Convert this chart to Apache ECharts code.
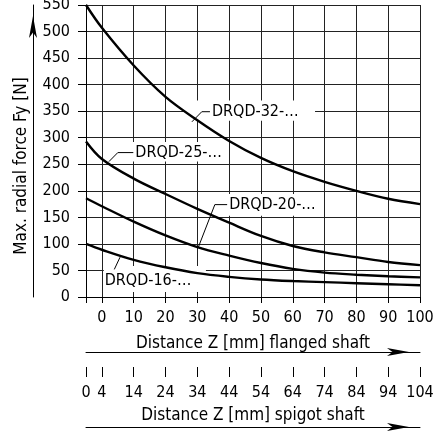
<!DOCTYPE html>
<html><head><meta charset="utf-8">
<script src="https://cdn.jsdelivr.net/npm/echarts@6/dist/echarts.min.js"></script>
<style>html,body{margin:0;padding:0;background:#fff}#c{width:435px;height:432px}</style>
</head><body><div id="c"></div>
<script>
// ---- data ----
const zFlanged = [-5, 0, 10, 20, 30, 40, 50, 60, 70, 80, 90, 100];
const xTickValues = [-5, 0, 10, 20, 30, 40, 50, 60, 70, 80, 90, 100];
const flangedLabels = ['', '0', '10', '20', '30', '40', '50', '60', '70', '80', '90', '100'];
const spigotLabels = ['0', '4', '14', '24', '34', '44', '54', '64', '74', '84', '94', '104'];
const drqd32 = [550, 507, 436, 377, 333, 294, 262, 237, 217, 200, 185, 175];
const drqd25 = [293, 260, 223, 194, 166, 140, 115, 96, 84, 75, 66, 60];
const drqd20 = [186, 171, 142, 116, 94, 78, 64, 53, 46, 42, 39, 37];
const drqd16 = [100, 89, 70, 56, 45, 38, 33, 30, 28, 26, 24, 22];
const seriesNames = ['DRQD-32-…', 'DRQD-25-…', 'DRQD-20-…', 'DRQD-16-…'];
const yTitle = 'Max. radial force Fy [N]';
const xTitle1 = 'Distance Z [mm] flanged shaft';
const xTitle2 = 'Distance Z [mm] spigot shaft';

// ---- annotation layout (data coordinates) ----
const annots = [
  {text: seriesNames[0], a: [28.3, 330], c: [31.4, 349], t: [34.6, 349], box: [26.4, 67, 332, 370]},
  {text: seriesNames[1], a: [2.2, 255], c: [5, 272], t: [10.5, 272], box: [5, 39.6, 255, 292]},
  {text: seriesNames[2], a: [30.2, 92], c: [35.5, 174], t: [40, 174], box: [34.6, 68.6, 153, 194]},
  {text: seriesNames[3], a: [5.7, 75], c: [3.9, 52], t: [0.9, 30], box: [0.6, 32.7, 9.4, 58.5], below: true}
];

const FONT = 'DejaVu Sans Condensed';
const pairs = arr => zFlanged.map((z, i) => [z, arr[i]]);
const lineSeries = (name, arr) => ({
  type: 'line', name, data: pairs(arr), smooth: 0.35,
  showSymbol: false, symbol: 'none', z: 3,
  lineStyle: {color: '#000', width: 2.4}
});

const chart = echarts.init(document.getElementById('c'), null, {renderer: 'canvas'});
chart.setOption({
  animation: false,
  backgroundColor: '#fff',
  textStyle: {fontFamily: FONT},
  grid: {left: 86, right: 15, top: 5, bottom: 135, containLabel: false, outerBoundsMode: 'none'},
  xAxis: [
    {
      type: 'value', position: 'bottom', min: -5, max: 100, offset: 0,
      axisLine: {show: true, onZero: false, lineStyle: {color: '#000', width: 1}},
      axisTick: {show: true, customValues: xTickValues, length: 6, lineStyle: {color: '#000'}},
      axisLabel: {customValues: xTickValues.slice(1), margin: 13, color: '#000', fontSize: 16, fontFamily: FONT,
        formatter: v => flangedLabels[xTickValues.indexOf(v)]},
      splitLine: {show: true, lineStyle: {color: '#222', width: 1}},
      name: xTitle1, nameLocation: 'middle', nameGap: 38, nameMoveOverlap: false,
      nameTextStyle: {color: '#000', fontSize: 17, fontFamily: FONT}
    },
    {
      type: 'value', position: 'bottom', min: -5, max: 100, offset: 55,
      axisLine: {show: true, onZero: false, symbol: ['none', 'arrow'], symbolSize: [6, 22], symbolOffset: [0, -11],
        lineStyle: {color: '#000', width: 1}},
      axisTick: {show: false}, axisLabel: {show: false}, splitLine: {show: false}
    },
    {
      type: 'value', position: 'bottom', min: -5, max: 100, offset: 70,
      axisLine: {show: false, onZero: false},
      axisTick: {show: true, customValues: xTickValues, length: 10, lineStyle: {color: '#000'}},
      axisLabel: {customValues: xTickValues, margin: 18, color: '#000', fontSize: 16, fontFamily: FONT,
        formatter: v => spigotLabels[xTickValues.indexOf(v)]},
      splitLine: {show: false},
      name: xTitle2, nameLocation: 'middle', nameGap: 40, nameMoveOverlap: false,
      nameTextStyle: {color: '#000', fontSize: 17, fontFamily: FONT}
    },
    {
      type: 'value', position: 'bottom', min: -5, max: 100, offset: 130,
      axisLine: {show: true, onZero: false, symbol: ['none', 'arrow'], symbolSize: [6, 22], symbolOffset: [0, -11],
        lineStyle: {color: '#000', width: 1}},
      axisTick: {show: false}, axisLabel: {show: false}, splitLine: {show: false}
    }
  ],
  yAxis: [
    {
      type: 'value', position: 'left', min: 0, max: 550, interval: 50,
      axisLine: {show: true, onZero: false, lineStyle: {color: '#000', width: 1}},
      axisTick: {show: true, length: 8, lineStyle: {color: '#000'}},
      axisLabel: {margin: 16, color: '#000', fontSize: 16, fontFamily: FONT},
      splitLine: {show: true, lineStyle: {color: '#222', width: 1}},
      name: yTitle, nameLocation: 'middle', nameGap: 56, nameMoveOverlap: false,
      nameTextStyle: {color: '#000', fontSize: 17, fontFamily: FONT, padding: [0, 30, 0, 0]}
    },
    {
      type: 'value', position: 'left', min: 0, max: 550, offset: 53,
      axisLine: {show: true, onZero: false, symbol: ['none', 'arrow'], symbolSize: [6, 22], symbolOffset: [0, -11],
        lineStyle: {color: '#000', width: 1}},
      axisTick: {show: false}, axisLabel: {show: false}, splitLine: {show: false}
    }
  ],
  series: [
    {
      type: 'custom', coordinateSystem: 'cartesian2d', xAxisIndex: 0, yAxisIndex: 0, z: 1, silent: true,
      data: annots.map(a => a.t),
      renderItem: function (params, api) {
        const an = annots[params.dataIndex];
        const p0 = api.coord([an.box[0], an.box[3]]);
        const p1 = api.coord([an.box[1], an.box[2]]);
        const a = api.coord(an.a), c = api.coord(an.c), t = api.coord(an.t);
        const pts = an.below ? [a, c] : [a, c, [t[0] - 2, c[1]]];
        return {
          type: 'group',
          children: [
            {type: 'rect', shape: {x: p0[0], y: p0[1], width: p1[0] - p0[0], height: p1[1] - p0[1]},
              style: {fill: '#fff'}},
            {type: 'polyline', shape: {points: pts}, style: {stroke: '#000', lineWidth: 1, fill: null}},
            {type: 'text', x: t[0], y: t[1],
              style: {text: an.text, fill: '#000', font: '16px "' + FONT + '"', align: 'left', verticalAlign: 'middle'}}
          ]
        };
      }
    },
    lineSeries(seriesNames[0], drqd32),
    lineSeries(seriesNames[1], drqd25),
    lineSeries(seriesNames[2], drqd20),
    lineSeries(seriesNames[3], drqd16)
  ]
});
</script>
</body></html>
